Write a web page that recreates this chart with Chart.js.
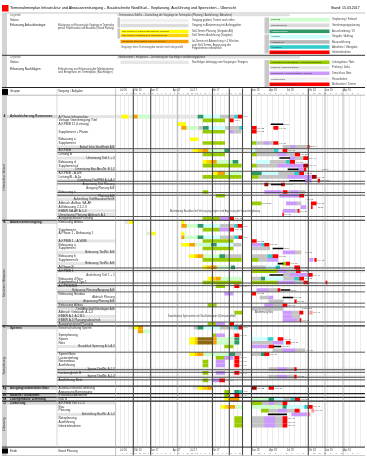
<!DOCTYPE html>
<html><head><meta charset="utf-8">
<script src="https://cdn.jsdelivr.net/npm/chart.js@4.4.1/dist/chart.umd.min.js"></script>
<style>html,body{margin:0;padding:0;background:#fff;overflow:hidden}canvas{display:block}</style>
</head><body><canvas id="c" width="367" height="456"></canvas>
<script>
// ---------- DATA ----------
// time unit: weeks from start of plan; rows: index of task line
const taskLabels = ['A Phase Infrastruktur','Vorlage Genehmigung Titel','A.KPB/B 12 (Leitung)','','Supplement + Planer','','Bebauung a','Supplement','Anlauf Infra Start/Ende A.B','A.KPB/B','Leitung B','Umsetzung Titel 1 + 2','Bebauung d','Supplement d','Umsetzung Bau Abs./Nr. B 1.2','A.KPB/B - A.4/B','Leitung/B - A.5a','Zuordnung Titel/PBS A.1-A.3','Anpassung Titel Planung','Ausgang Planung A.B','Bebauung e','Planung A.B','Aufstellung Titel/Bauabschnitt B','Abbruch Aufbau SA.AF','A.Bebauung 2.1.2.3','EBBW SA.AF A.1-3','Umsetzung Planung Abbruch A.1','Ausgangsstand Planung','Bebauung Altbau','','Supplement','A.Phase 1 - Bebauung 1','','A.KPB/B 1 - A.VB/B','Bebauung a','Supplement','Bebauung Titel/Nr. A.B','Bebauung b','Supplement b','Bebauung Titel/Nr. A.B','A.Phase B','A.KPB/B 1','Ausführung Titel 1 + 2','Bebauung 4 Neu','Supplement 4 Typ 1','A.KPB/B/N/B','Bebauung Planung/Ausgang A.B','Bebauung Neubau','Abbruch Planung','Anpassung Planung A.B','Bebauung Altbau','Titel/Abschnitt/Unterlagen A.B','Abbruch Gebäude A.1-3','EBBW A.1 A.2 B.1','EBBW A.3 Planungsabschnitt','Ausgangsstand Planung','Bewirtschaftung Sperre','','Sperrplanung','Sperre','Netz','Bauablauf Sperrung A.1-A.3','','Sperre/Netz','Lastverteilung','Netzumbau','Ausführung','Sperre Titel/Nr. A.1.3','Lastausgleich B','Sperre Titel/Nr. A.1.3','Ausführung Netz','','Ausbauzustand Lieferung','Anpassung Bemessung','Ersatzbau/Abnahme','Bau B','A.KPB/B Teil 1.2.3','Bau','Planung','Aufstellung Bau/Nr. A.1-3','Netzplanung','Ausführung','Inbetriebnahme'];
const rightAlignedRows = [8,11,14,17,18,19,21,22,36,39,42,46,48,49,51,61,67,69,79];
const shadedLabelRows = [0,8,9,11,14,17,21,22,25,26,33,36,39,41,45,46,49,51,53,54,61,67,69,76,79];
const shadeAcrossRows = [9,41,67,69];
const groupStart = [0,28,56,72,74,75,76];
const groupEnd = [27,55,71,73,74,75,82];
const groupCode = ['A','B','C','Ag','Mo','Na','Zf'];
const groupName = ['Anlaufsicherung Kommunen','Abwasserentsorgung','Sperren','Ausgangsmaterialien Netz','Modelle / Gutachten','Lasergehäuse Lieferung','Zulassung'];
const sideLabel = ['Infrastruktur / Anlauf','Kanalnetz / Abwasser','Sperrplanung','','','','Zulassung'];
const lineRows = [8.5,9.5,14.5,26.5,46.5,49.5,50.5,54.5,62.5];
const doubleLineRows = [17.5,20.5,40.5,44.5,67.5,69.5];
const groupLineRows = [27.5,55.5,71.5,73.5,74.5,75.5];
const periodStart = [4,18,34.7,56.7,74,95.7,135.7,153.3,170.7,192.3,209,227.3];
const periodLabel = ['Jul 16','Okt 16','Jan 17','Apr 17','Jul 17','Okt 17','Jan 18','Apr 18','Jul 18','Okt 18','Jan 19','Apr 19'];
const majorLines = [17.3,34.7,96.5,113.3,126.5,135.5,192.3];
const mediumLines = [61.7,209,227];
const breakBand = [126.5,135.5];

// segments: [row, start week, end week]
const lightGraySeg = [[0,0.7,82],[28,9,13.3],[31,30.7,35.7],[56,12.3,17.3],[72,77,82]];
const graySeg = [[0,103.7,118.7],[3,82.3,87.3],[3,108.7,123.7],[4,117,125],[7,139.7,148.7],[7,153,157.7],[8,167,177],[8,179,192],[9,139,157],[10,140.3,162],[10,170.3,178.7],[11,178.7,187.7],[12,153.7,170.3],[13,140.3,162],[15,162,178.7],[16,142,172],[20,171,175],[20,182,189],[23,180.3,185],[25,178.7,183.7],[29,103.7,118.7],[32,103.7,118.7],[34,117,125],[35,135.3,153.7],[36,178.7,185],[37,108.7,125.3],[37,135.3,152],[38,142,152],[40,135.3,150],[41,170.3,180.3],[42,167,174],[43,135.3,145.3],[43,167,178.7],[44,178.7,188],[46,152,162],[48,144,153],[49,153,167],[50,157,167],[51,135.3,167],[52,175.3,183.7],[53,175.3,183.7],[54,180.3,183.7],[56,78,82],[56,103.7,118.7],[60,135.3,157],[61,152,153],[62,157,167],[62,178.7,188.7],[63,118.7,125],[63,135.3,145.3],[67,153,162],[67,170.3,178.7],[69,153,162],[69,170.3,178.7],[75,167,175.3],[76,145.3,153],[76,157.7,167],[78,152.3,162],[78,170.7,179],[79,180.3,185],[80,135.3,148.7],[80,158.7,167],[81,135.3,148.7],[81,158.7,167],[82,135.3,148.7],[82,158.7,167]];
const lightGreenSeg = [[0,22.3,34],[3,70,82.3],[9,92,107],[12,100.3,117],[15,108.7,125.3],[29,70.3,82],[32,68,82],[34,78.7,95.3],[37,87,103.7],[40,100.3,115.3],[43,104.3,125.3],[57,26.7,34],[59,100.3,117],[60,100.3,117],[63,87,113.7],[75,135.3,153],[77,118.7,126.3],[77,135.3,167]];
const cyanSeg = [[0,87,103.7],[3,92.3,108.7],[9,135.3,139],[12,140.3,153.7],[15,145.3,162],[29,87,103.7],[32,87,103.7],[34,100.3,117],[40,150,160],[43,148.7,167],[56,87,103.7],[59,135.3,152],[60,167,170.3],[75,157.7,167],[77,170.3,188.7]];
const yellowSeg = [[0,5.7,12.3],[2,61.7,69.7],[6,74.3,82],[9,77,82],[12,87,91],[15,97,102],[28,13.3,17.3],[28,65.7,68],[31,35.7,39],[31,65.7,68],[34,65.7,73.7],[37,73.7,79],[40,87,91],[43,92,95],[56,17.3,22.3],[59,73.7,79],[60,73.7,79],[63,73.7,79],[72,82,87],[75,108.7,113.7],[77,105.3,109]];
const goldSeg = [[9,82,87],[12,91,95.3],[37,79,82],[40,91,95.3],[43,95,100.3],[59,79,82],[60,79,82],[63,79,82],[72,87,92],[77,109,113.7]];
const orangeSeg = [[0,17.3,21.3],[3,65.7,70],[9,87,92],[12,95.3,100.3],[15,102,108.7],[29,65.7,70.3],[32,65.7,68],[34,73.7,78.7],[37,82,87],[40,95.3,100.3],[43,100.3,104.3],[56,22.3,26.7],[57,22.3,26.7],[59,96.3,100.3],[60,96.3,100.3],[63,82,87],[72,92,96.3],[75,113.7,123],[77,113.7,118.7]];
const oliveSeg = [[59,82,96.3],[60,82,96.3]];
const tealSeg = [[0,82,87],[3,87.3,92.3],[9,108.7,113.7],[12,117,122],[15,135.3,145.3],[29,82,87],[32,82,87],[34,95.3,100.3],[37,103.7,108.7],[40,115.3,118.7],[43,145.3,148.7],[56,82,87],[59,118.7,123],[60,118.7,123],[63,113.7,118.7],[63,145.3,148.7],[73,118.7,123],[75,153,157.7],[77,167,170.3]];
const turquoiseSeg = [[0,118.7,122.3],[3,123.7,126.5],[9,158,162],[12,170.3,174.3],[15,178.7,183.7],[29,118.7,122],[32,118.7,123],[34,145.3,148.7],[37,152,157],[40,160,163.7],[43,178.7,183.7],[56,118.7,123],[59,152,157],[73,123,126.3],[75,175.3,179.3],[77,188.7,192]];
const yellowGreenSeg = [[1,87,108.7],[4,87,108.7],[7,87,108.7],[7,135.3,139.7],[10,87,108.7],[10,135.3,140.3],[13,87,125.3],[13,135.3,140.3],[16,87,125.3],[16,135.3,142],[20,87,92],[21,100.3,108.7],[23,135.3,145.3],[27,87,103.7],[30,87,103.7],[33,87,117],[35,87,117],[38,87,125.3],[38,135.3,142],[39,167,170.3],[41,135.3,162],[44,87,125.3],[44,135.3,162],[45,100.3,108.7],[50,92,100.3],[52,118.7,126.3],[55,92,100.3],[58,96.3,100.3],[61,108.7,117],[64,100.3,108.7],[65,87,92],[66,87,92],[68,87,92],[70,87,92],[73,108.7,113.7],[74,108.7,113.7],[76,135.3,145.3],[78,145.3,152.3],[80,118.7,126.3],[81,118.7,126.3],[82,118.7,126.3]];
const lavenderSeg = [[4,113.7,117],[7,148.7,153],[8,175,179],[10,162,170.3],[11,173.7,178.7],[13,162,187.7],[14,182,187],[16,172,196.3],[17,188.7,195.3],[20,148.7,165.3],[20,175,182],[21,163.7,183.7],[23,170.3,180.3],[24,185,190],[25,167,178.7],[27,103.7,113.7],[30,103.7,113.7],[34,135.3,145.3],[36,167,178.7],[38,152,162],[38,193.7,197],[41,162,170.3],[42,174,193.7],[44,162,178.7],[46,141,152],[47,108.7,117],[48,153,157],[50,148.7,157],[52,167,175.3],[53,167,175.3],[54,167,180.3],[55,100.3,108.7],[58,100.3,108.7],[60,157,167],[61,135.3,152],[62,167,178.7],[64,108.7,117],[65,100.3,108.7],[66,100.3,108.7],[67,162,170.3],[68,100.3,108.7],[69,162,170.3],[70,96.3,103.7],[76,153,157.7],[78,162,170.7],[79,175.7,190.7],[80,148.7,158.7],[81,148.7,158.7],[82,148.7,158.7]];
const pinkSeg = [[52,193.7,196.3],[78,195.7,198],[79,192,194]];
const darkRedSeg = [[13,187.7,192],[16,196.3,200.3],[18,148.7,152],[72,135.3,140.3]];
const redSeg = [[0,122.3,126],[1,113.7,117.3],[3,135.3,140.3],[3,157.7,162],[4,135.3,140.3],[7,157.7,162],[8,192,193.3],[9,167,171],[10,179.3,183.7],[11,187.7,192],[12,174.3,178.7],[14,188,190],[15,183.7,187.7],[17,202,203.7],[18,165.3,168.7],[20,167,171],[21,183.7,187.7],[23,195.3,200.3],[24,195.3,196.3],[25,182,183],[26,166.7,167.5],[27,113.7,117.7],[29,122,126.3],[30,113.7,117.7],[32,123,126.3],[33,135.3,140.3],[34,148.7,153],[37,157,162],[38,198.7,200.3],[39,170.3,173.7],[40,178.7,183.7],[41,180.3,184.3],[42,193,196.3],[43,183.7,187.7],[44,188,192],[44,209.7,211],[45,118.7,123],[46,162,164],[47,135.3,139.7],[49,178.7,180.3],[50,167,171],[52,183.7,187],[54,184,185],[55,113.7,117.7],[56,123,126.3],[58,118.7,123],[59,162,167],[60,170.3,174.3],[61,153,157.7],[63,148.7,153],[64,118.7,123],[65,118.7,123],[66,118.7,123],[67,178.7,180.3],[68,118.7,123],[69,178.7,180.3],[70,103.7,108.7],[72,153,157.7],[74,118.7,123],[75,179.3,183.7],[76,167,171],[77,192,196.3],[78,179,183.3],[80,167,171],[81,167,171],[82,167,171]];
const linkSeg = [[2,155,167],[11,163.7,173.7],[14,172,182],[17,173.7,188.7],[18,155.3,167],[35,157,167],[39,162,167],[42,153.7,167],[46,165,174],[48,167,177],[61,157.7,165],[79,152.3,170.7]];
// notes: [row, week, text]
const notes = [[0,127,'Abn.'],[1,118.5,'KW 9'],[2,168,'Start'],[3,141,'KW 22'],[3,163,'KW 31'],[4,141,'KW 22'],[7,163,'KW 31'],[8,194,'Ende A'],[9,172,'KW 34'],[10,184.5,'KW 36'],[11,193,'KW 40'],[12,180,'KW 35'],[13,193,'KW 40'],[14,205,'Abschl.'],[15,189,'KW 38'],[16,201,'KW 42'],[17,204,'Übergabe'],[18,169.5,'KW 30'],[20,172,'KW 34'],[20,190,'KW 39'],[21,189,'KW 38'],[22,190,'Abn. B'],[23,146,'Freigabe'],[23,201,'KW 42'],[24,202,'Ende'],[25,184,'KW 37'],[26,168,'KW 31'],[27,119,'KW 12'],[29,127,'Abn.'],[30,119,'KW 12'],[32,127,'Abn.'],[33,141,'KW 22'],[34,154,'KW 27'],[35,168,'Start'],[36,189,'KW 38'],[37,163,'KW 29'],[38,201,'KW 42'],[39,174.5,'KW 32'],[40,185,'KW 36'],[41,185,'KW 36'],[42,197,'KW 41'],[43,189,'KW 38'],[44,193,'KW 40'],[45,124,'KW 14'],[46,175,'Ende'],[47,141,'KW 22'],[48,178,'KW 35'],[49,181,'KW 35'],[50,172,'KW 34'],[51,185,'Abschluss'],[52,197,'KW 41'],[54,186,'KW 37'],[55,119,'KW 12'],[56,127,'Abn.'],[58,124,'KW 14'],[59,168,'KW 31'],[60,175,'KW 33'],[61,166,'KW 29'],[62,190,'KW 39'],[63,154,'KW 27'],[64,124,'KW 14'],[65,124,'KW 14'],[66,124,'KW 14'],[67,181,'KW 35'],[68,124,'KW 14'],[69,181,'KW 35'],[70,110,'KW 10'],[72,141,'KW 22'],[72,159,'KW 29'],[73,127,'Abn.'],[74,124,'KW 14'],[75,185,'KW 36'],[77,197,'KW 41'],[78,199,'KW 42'],[80,172,'KW 34'],[81,172,'KW 34'],[82,172,'KW 34']];
const longNotes = [[25,54,144,'Abstimmung Bauablauf mit Versorgungsträgern und Anpassung der Bauzeitenplanung'],[52,139,157,'Abstimmung Netz'],[53,52,120,'Koordination Sperrzeiten mit Straßenbauamt (Zeitraum offen)']];

// ---------- BUILD ----------
const FONT = '"Liberation Sans", Arial, sans-serif';
function T(c,s,x,y,size,color,align,maxW,bold){
  c.font=(bold?'bold ':'')+size+'px '+FONT; c.fillStyle=color||'#222';
  c.textAlign=align||'left'; c.textBaseline='middle';
  if(maxW && c.measureText(s).width>maxW) c.fillText(s,x,y,maxW); else c.fillText(s,x,y);
}
function R(c,x,y,w,h,col){c.fillStyle=col;c.fillRect(x,y,w,h);}
function HL(c,x1,x2,y,col,lw){c.strokeStyle=col;c.lineWidth=lw;c.beginPath();c.moveTo(x1,y);c.lineTo(x2,y);c.stroke();}
function VL(c,x,y1,y2,col,lw){c.strokeStyle=col;c.lineWidth=lw;c.beginPath();c.moveTo(x,y1);c.lineTo(x,y2);c.stroke();}

// month grid (weeks)
const gridWeeks=[];
for(let v=17.3-4.35*3; v<breakBand[0]; v+=4.35) gridWeeks.push(+v.toFixed(2));
for(let v=140.3; v<249; v+=5.5) gridWeeks.push(+v.toFixed(2));

const layers = [ // top-most first
  [linkSeg,'#000000',0.9],[redSeg,'#ff0000',3],[darkRedSeg,'#a00000',3],[pinkSeg,'#ff9a9a',3],
  [lavenderSeg,'#cc99ff',3],[yellowGreenSeg,'#99cc00',3],[turquoiseSeg,'#33cccc',3],[tealSeg,'#2e9966',3],
  [oliveSeg,'#8c6a14',3],[orangeSeg,'#f7a000',3],[goldSeg,'#ffcc00',3],[yellowSeg,'#ffff00',3],
  [cyanSeg,'#ccffff',3],[lightGreenSeg,'#ccffcc',3],[graySeg,'#c4c4c4',3],[lightGraySeg,'#e6e6e6',3]
];
const datasets = layers.map((l,i)=>({
  data:l[0].map(s=>({y:s[0],x:[s[1],s[2]]})),
  backgroundColor:l[1], borderWidth:0, barThickness:l[2], grouped:false, order:i
}));

const gantt = {
  id:'gantt',
  beforeDraw(chart){
    const c=chart.ctx, Y=chart.scales.y, A=chart.chartArea;
    const h=Math.abs(Y.getPixelForValue(1)-Y.getPixelForValue(0));
    c.save();
    R(c,0,0,chart.width,chart.height,'#ffffff');
    R(c,2,12.5,5,443.5,'#d3d3d3');
    shadedLabelRows.forEach(r=>{const y=Y.getPixelForValue(r);R(c,57.5,y-h/2+0.4,58,h-0.8,'#e3e3e3');});
    shadeAcrossRows.forEach(r=>{const y=Y.getPixelForValue(r);R(c,A.left,y-h/2+0.4,A.right-A.left,h-0.8,'#ededed');});
    groupStart.forEach(r=>{const y=Y.getPixelForValue(r);R(c,7,y-h/2+0.3,50.5,h-0.6,'#d6d6d6');});
    c.restore();
  },
  afterDatasetsDraw(chart){
    const c=chart.ctx, X=chart.scales.x, Y=chart.scales.y, A=chart.chartArea;
    c.save();
    const yb=v=>Y.getPixelForValue(v);
    lineRows.forEach(r=>HL(c,57,A.right,yb(r),'#4a4a4a',0.9));
    doubleLineRows.forEach(r=>{HL(c,57,A.right,yb(r)-1.3,'#3a3a3a',0.9);HL(c,57,A.right,yb(r)+1.3,'#3a3a3a',0.9);});
    groupLineRows.forEach(r=>HL(c,2,A.right,yb(r),'#222',1.2));
    mediumLines.forEach(w=>VL(c,X.getPixelForValue(w),88.5,455.5,'#9a9a9a',0.7));
    majorLines.forEach(w=>VL(c,X.getPixelForValue(w),88.5,455.5,'#4d4d4d',1.1));
    notes.forEach(n=>T(c,n[2],X.getPixelForValue(n[1]),yb(n[0]),2.4,'#555','left'));
    longNotes.forEach(n=>{const x1=X.getPixelForValue(n[1]),x2=X.getPixelForValue(n[2]);T(c,n[3],x1,yb(n[0]),2.8,'#444','left',x2-x1);});
    c.restore();
  },
  afterDraw(chart){
    const c=chart.ctx, X=chart.scales.x, Y=chart.scales.y, A=chart.chartArea;
    c.save();
    // ---- page header ----
    R(c,2,5,6.5,6.5,'#ff0000');
    T(c,'Terminrahmenplan Infrastruktur und Abwasserentsorgung – Bauabschnitte Nord/Süd – Vorplanung, Ausführung und Sperrzeiten – Übersicht',10,8.3,4.2,'#000','left',226);
    T(c,'Stand: 15.03.2017',331,8.3,3.5,'#000','left',32);
    HL(c,7,365,13,'#9a9a9a',0.6);
    T(c,'Legende',10,15,2.8,'#666');
    R(c,117,13.6,173,2.6,'#e0e0e0');
    T(c,'Terminstatus Soll/Ist – Darstellung der Vorgänge im Terminplan (Planung / Ausführung / Abnahme)',119,14.9,2.6,'#444','left',165);
    T(c,'Status:',10,20.5,3,'#333');
    T(c,'Erfassung Anlaufstrategie',10,25.5,3.1,'#222','left',46);
    T(c,'Erläuterung zur Erfassung der Vorgänge im Terminplan',58,25,2.9,'#444','left',56);
    T(c,'gemäß Projektstruktur und Bauablauf (Stand Planung)',58,28.4,2.9,'#444','left',56);
    R(c,117.5,17.5,2.5,10,'#c8c8c8'); R(c,117.5,28.5,2.5,10,'#c8c8c8');
    const l1=[[20.5,'#efefef','','Vorgang geplant, Termin noch offen'],[25.5,'#dcdcdc','','Vorgang in Abstimmung mit Auftraggeber'],[31.5,'#ffff00','Soll-Termin lt. Rahmenterminplan Planung','Soll-Termin Planung (Vorgabe AG)'],[35.5,'#ffd200','Soll-Termin Ausführung lt. Bauzeitenplan','Soll-Termin Ausführung (Vorgabe)'],[41.5,'#f5a000','Ist-Termin abweichend vom Soll-Termin','Ist-Termin mit Abweichung > 4 Wochen']];
    l1.forEach(r=>{R(c,120.5,r[0]-1.7,68,3.4,r[1]); if(r[2])T(c,r[2],122,r[0],2.5,'#333','left',64); T(c,r[3],192,r[0],2.7,'#444','left',56);});
    T(c,'zum Soll-Termin, Anpassung der',192,44.8,2.7,'#444','left',56);
    T(c,'Folgetermine erforderlich',192,48,2.7,'#444','left',56);
    T(c,'Vorgänge ohne Terminangabe werden nicht dargestellt',121,47,2.6,'#555','left',62);
    R(c,264.5,17.5,4.5,16,'#c8c8c8'); R(c,264.5,34.5,4.5,19,'#c8c8c8');
    const l2=[[19.7,'#ccffcc','Planung','Vorplanung / Entwurf'],[25.3,'#d9d9d9','Genehmigung','Genehmigungsplanung'],[31.3,'#2e9966','Ausschreibung','Ausschreibung / LV'],[36.7,'#ccffff','Vergabe','Vergabe / Auftrag'],[41.9,'#b8b8b8','Ausführung','Bauausführung'],[47,'#33cccc','Abnahme','Abnahme / Übergabe'],[52.3,'#ff0000','Inbetriebnahme','Inbetriebnahme']];
    l2.forEach(r=>{R(c,269.5,r[0]-1.8,60,3.6,r[1]); T(c,r[2],271,r[0],2.5,r[1]==='#2e9966'?'#fff':'#333','left',40); T(c,r[3],332,r[0],2.7,'#444','left',32);});
    HL(c,2,365,55.3,'#333',1);
    T(c,'Legende',10,57.2,2.8,'#666');
    R(c,117,55.9,183,2.6,'#e0e0e0');
    T(c,'Meilensteine / Ereignisse – Darstellung der Nachfolger und Abhängigkeiten',119,57.2,2.6,'#444','left',170);
    T(c,'Status:',10,62,3,'#333');
    T(c,'Erfassung Nachfolgen',10,69.3,3.1,'#222','left',46);
    T(c,'Erläuterung zur Erfassung der Meilensteine',58,69,2.9,'#444','left',56);
    T(c,'und Ereignisse im Terminplan (Nachfolger)',58,72.4,2.9,'#444','left',56);
    R(c,120.5,60.6,68,3.4,'#e6e6e6');
    T(c,'Nachfolger abhängig vom Vorgänger / Ereignis',192,62.3,2.7,'#444','left',60);
    R(c,264.5,60,4.5,27,'#c8c8c8');
    const l3=[[62.3,'#99cc00','Ausführung Leitungsbau / Anschluss Bestand','Leitungsbau / Netz'],[67.7,'#e6e6e6','Prüfung / Dokumentation','Prüfung / Doku'],[73.3,'#cc99ff','Umschluss / Inbetriebnahme Teilnetz','Umschluss Netz'],[79,'#f2f2f2','Restarbeiten','Restarbeiten'],[84.3,'#ff0000','Meilenstein / Abnahme','Meilenstein / Termin']];
    l3.forEach(r=>{R(c,269.5,r[0]-1.8,60,3.6,r[1]); T(c,r[2],271,r[0],2.5,'#333','left',57); T(c,r[3],332,r[0],2.7,'#444','left',32);});
    HL(c,2,365,87.5,'#222',1);
    // ---- table header / footer ----
    R(c,2,89,6,6,'#000');
    T(c,'Gruppe',10,91.5,3,'#333');
    T(c,'Vorgang / Aufgabe',58,91.5,3,'#333');
    HL(c,2,365,A.top,'#888',0.6);
    HL(c,2,365,A.bottom,'#222',1);
    R(c,2,448.5,6,5,'#000');
    T(c,'Ende',10,451,3,'#333');
    T(c,'Stand Planung',58,451,3,'#333');
    HL(c,2,365,455.5,'#aaa',0.6);
    periodStart.forEach((w,i)=>{const x=X.getPixelForValue(w);T(c,periodLabel[i],x,90.3,2.6,'#444','left',14);T(c,periodLabel[i],x,450.4,2.6,'#444','left',14);});
    for(let k=0;k<gridWeeks.length-1;k++){
      const a=gridWeeks[k], b=gridWeeks[k+1]; if(a<breakBand[0]&&b>breakBand[0]) continue;
      const x=X.getPixelForValue((a+b)/2);
      T(c,String((k+6)%12+1),x,93.3,2.1,'#666','center');T(c,String((k+6)%12+1),x,453.9,2.1,'#666','center');
    }
    VL(c,57,88.5,A.bottom,'#c0c0c0',0.6);
    VL(c,115.6,88.5,455.5,'#9a9a9a',0.6);
    // ---- groups ----
    groupStart.forEach((r,i)=>{
      const y=Y.getPixelForValue(r);
      T(c,groupCode[i],4.5,y,2.6,'#111','center',4.5,true);
      T(c,groupName[i],10,y,3.1,'#222','left',46,true);
      if(sideLabel[i]){
        const mid=(Y.getPixelForValue(groupStart[i])+Y.getPixelForValue(groupEnd[i]))/2+10;
        c.save();c.translate(4.6,mid);c.rotate(-Math.PI/2);T(c,sideLabel[i],0,0,2.9,'#444','center',60);c.restore();
      }
    });
    // ---- task labels ----
    taskLabels.forEach((s,i)=>{
      if(!s) return; const y=Y.getPixelForValue(i);
      if(rightAlignedRows.includes(i)) T(c,s,114.5,y,2.9,'#333','right',56);
      else T(c,s,58.5,y,3.2,'#2a2a2a','left',56);
    });
    c.restore();
  }
};

new Chart(document.getElementById('c'),{
  type:'bar',
  data:{datasets},
  options:{
    responsive:false, animation:false, devicePixelRatio:1, indexAxis:'y',
    layout:{padding:{top:95.2,bottom:8.9,left:0,right:2}},
    plugins:{legend:{display:false},tooltip:{enabled:false}},
    scales:{
      x:{type:'linear',min:0,max:249,
        afterBuildTicks:s=>{s.ticks=gridWeeks.map(v=>({value:v}));},
        afterFit:s=>{s.height=0;},
        ticks:{display:false},border:{display:false},
        grid:{drawTicks:false,lineWidth:0.5,color:ctx=>{const v=ctx.tick?ctx.tick.value:0;return (v>breakBand[0]&&v<breakBand[1])?'rgba(0,0,0,0)':'#d8d8d8';}}},
      y:{type:'linear',min:-0.5,max:82.5,reverse:true,
        afterFit:s=>{s.width=116;},
        ticks:{display:false},border:{display:false},grid:{display:false}}
    }
  },
  plugins:[gantt]
});
</script></body></html>
